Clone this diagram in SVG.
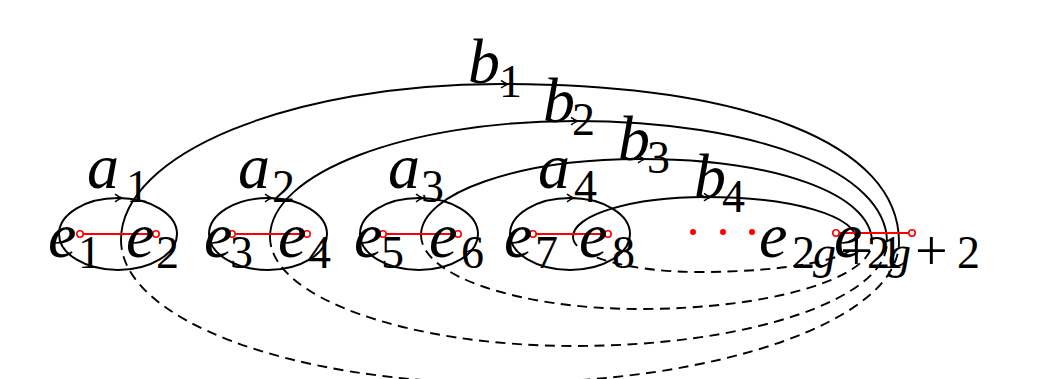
<svg xmlns="http://www.w3.org/2000/svg" xmlns:xlink="http://www.w3.org/1999/xlink" width="1040" height="379" viewBox="0 0 1040 379">
<style>
.el{fill:none;stroke:#000;stroke-width:2}
.up{fill:none;stroke:#000;stroke-width:1.9}
.dn{fill:none;stroke:#000;stroke-width:1.9;stroke-dasharray:10 6.5}
.red{stroke:#f00;stroke-width:1.8}
.rc{fill:#fff;stroke:#f00;stroke-width:1.6}
.rd{fill:#f00}
.m{font-family:"Liberation Serif",serif;font-style:italic;font-size:64px;fill:#000}
.s{font-family:"Liberation Serif",serif;font-style:normal;font-size:46px;fill:#000}
.si{font-family:"Liberation Serif",serif;font-style:italic;font-size:46px;fill:#000}
.pl{font-family:"Liberation Serif",serif;font-style:normal;font-size:58px;fill:#000}
</style>
<defs>
<path id="ah" d="M-7,-3.8 Q-3,-0.8 0,0 Q-3,0.8 -7,3.8" fill="none" stroke="#000" stroke-width="1.5"/>
</defs>
<g id="connectors">
<path class="up" d="M121,240 C121,153.9 290.8,84 500,84 C747.4,84 899,144 899,242"/>
<path class="dn" d="M121,240 C121,319 290.8,383 500,383 C720.2,383 899,319.8 899,242"/>
<path class="up" d="M270,237 C270,173 406.6,121 575,121 C756,121 887,171.8 887,242"/>
<path class="dn" d="M270,237 C270,297.2 406.6,346 575,346 C747.2,346 887,299.4 887,242"/>
<path class="up" d="M421,235 C421,193 519.1,159 640,159 C774.6,159 872,193.9 872,242"/>
<path class="dn" d="M421,235 C421,275.8 519.1,309 640,309 C768.1,309 872,279 872,242"/>
<path class="up" d="M573,237 C573,214.9 632.1,197 705,197 C793.2,197 857,215.9 857,242"/>
<path class="dn" d="M573,237 C573,256.3 629.9,272 700,272 C786.7,272 857,258.6 857,242"/>
<use xlink:href="#ah" x="508" y="84.2"/>
<use xlink:href="#ah" x="578" y="121.1"/>
<use xlink:href="#ah" x="645" y="159.1"/>
<use xlink:href="#ah" x="711" y="197.1"/>
</g>
<g id="loop1">
<ellipse class="el" cx="118" cy="234" rx="59" ry="36"/>
<use xlink:href="#ah" x="122" y="198"/>
<text class="m" x="87" y="188">a</text><text class="s" x="126" y="202">1</text>
</g>
<g id="loop2">
<ellipse class="el" cx="268" cy="234" rx="59" ry="36"/>
<use xlink:href="#ah" x="272" y="198"/>
<text class="m" x="238" y="188">a</text><text class="s" x="272" y="202">2</text>
</g>
<g id="loop3">
<ellipse class="el" cx="419" cy="234" rx="59" ry="36"/>
<use xlink:href="#ah" x="423" y="198"/>
<text class="m" x="388" y="188">a</text><text class="s" x="421" y="202">3</text>
</g>
<g id="loop4">
<ellipse class="el" cx="570" cy="234" rx="60" ry="36"/>
<use xlink:href="#ah" x="574" y="198"/>
<text class="m" x="538" y="188">a</text><text class="s" x="574" y="202">4</text>
</g>
<g id="edge12">
<line class="red" x1="80" y1="234" x2="156" y2="234"/>
<circle class="rc" cx="80" cy="234" r="3.2"/><circle class="rc" cx="156" cy="234" r="3.2"/>
</g>
<g id="edge34">
<line class="red" x1="232" y1="234" x2="307" y2="234"/>
<circle class="rc" cx="232" cy="234" r="3.2"/><circle class="rc" cx="307" cy="234" r="3.2"/>
</g>
<g id="edge56">
<line class="red" x1="383" y1="234" x2="458" y2="234"/>
<circle class="rc" cx="383" cy="234" r="3.2"/><circle class="rc" cx="458" cy="234" r="3.2"/>
</g>
<g id="edge78">
<line class="red" x1="533" y1="234" x2="608" y2="234"/>
<circle class="rc" cx="533" cy="234" r="3.2"/><circle class="rc" cx="608" cy="234" r="3.2"/>
</g>
<g id="edgelast">
<line class="red" x1="836" y1="233" x2="912" y2="233"/>
<circle class="rc" cx="836" cy="233" r="3.2"/><circle class="rc" cx="912" cy="233" r="3.2"/>
</g>
<g id="dots">
<circle class="rd" cx="693" cy="232" r="3"/>
<circle class="rd" cx="723" cy="232" r="3"/>
<circle class="rd" cx="752" cy="232" r="3"/>
</g>
<g id="labels-e">
<text class="m" x="48" y="257">e</text><text class="s" x="78" y="268">1</text>
<text class="m" x="126" y="257">e</text><text class="s" x="156" y="268">2</text>
<text class="m" x="204" y="257">e</text><text class="s" x="230" y="268">3</text>
<text class="m" x="278" y="257">e</text><text class="s" x="308" y="268">4</text>
<text class="m" x="354" y="257">e</text><text class="s" x="381" y="268">5</text>
<text class="m" x="429" y="257">e</text><text class="s" x="461" y="268">6</text>
<text class="m" x="504" y="257">e</text><text class="s" x="535" y="268">7</text>
<text class="m" x="579" y="257">e</text><text class="s" x="612" y="268">8</text>
<text class="m" x="759" y="257">e</text><text class="s" x="792" y="268">2</text><text class="si" x="813" y="268">g</text><text class="pl" x="840" y="270">+</text><text class="s" x="880" y="268">1</text>
<text class="m" x="834" y="257">e</text><text class="s" x="867" y="268">2</text><text class="si" x="888" y="268">g</text><text class="pl" x="915" y="270">+</text><text class="s" x="957" y="268">2</text>
</g>
<g id="labels-b">
<text class="m" x="468" y="83">b</text><text class="s" x="499" y="97">1</text>
<text class="m" x="543" y="122">b</text><text class="s" x="572" y="135">2</text>
<text class="m" x="618" y="160">b</text><text class="s" x="647" y="173">3</text>
<text class="m" x="694" y="198">b</text><text class="s" x="722" y="212">4</text>
</g>
</svg>
